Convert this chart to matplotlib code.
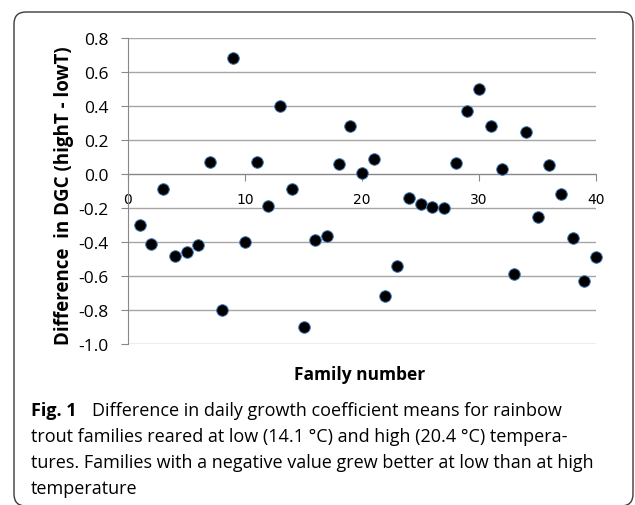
import numpy as np
import matplotlib
matplotlib.use('Agg')
import matplotlib.pyplot as plt
from matplotlib.patches import FancyBboxPatch
from matplotlib.transforms import IdentityTransform

# Family numbers and DGC differences (highT - lowT)
families = list(range(1, 41))
dgc_diff = [-0.30, -0.41, -0.09, -0.48, -0.46, -0.42, 0.07, -0.80, 0.68, -0.40,
            0.07, -0.19, 0.40, -0.09, -0.90, -0.39, -0.365, 0.06, 0.28, 0.005,
            0.09, -0.72, -0.54, -0.14, -0.175, -0.195, -0.20, 0.065, 0.37, 0.50,
            0.28, 0.03, -0.59, 0.25, -0.255, 0.055, -0.12, -0.375, -0.63, -0.49]

x_ticks = [0, 10, 20, 30, 40]
y_ticks = [-1.0, -0.8, -0.6, -0.4, -0.2, 0.0, 0.2, 0.4, 0.6, 0.8]

caption_lines = [
    "trout families reared at low (14.1 \u00b0C) and high (20.4 \u00b0C) tempera-",
    "tures. Families with a negative value grew better at low than at high",
    "temperature",
]

W, H = 635, 506
fig = plt.figure(figsize=(W / 100, H / 100), dpi=100)
ax = fig.add_axes([128 / W, 1 - 345 / H, (596 - 128) / W, (345 - 39) / H])

axis_font = ['Open Sans', 'DejaVu Sans']
cap_font = ['Open Sans', 'DejaVu Sans']

# frame round the figure (pixel coordinates)
frame = FancyBboxPatch((14, H - 507), 633 - 14, 507 - 13,
                       boxstyle="round,pad=0,rounding_size=12",
                       transform=IdentityTransform(), fill=False,
                       edgecolor='#3a3a3a', linewidth=1.0, clip_on=False)
fig.patches.append(frame)

ax.scatter(families, dgc_diff, s=70, color='black', edgecolors='#4a7ebb',
           linewidths=0.7, zorder=3, clip_on=False)

ax.set_xlim(0, 40)
ax.set_ylim(-1.0, 0.8)
ax.set_xticks(x_ticks)
ax.set_yticks(y_ticks)
ax.set_yticklabels([f"{v:.1f}" for v in y_ticks], family=axis_font, fontsize=12.5)
ax.set_xticklabels([str(v) for v in x_ticks], family=axis_font, fontsize=12.5)

ax.grid(axis='y', color='#a6a6a6', linewidth=1.0, zorder=0)
ax.set_axisbelow(True)
for s in ['top', 'right']:
    ax.spines[s].set_visible(False)
ax.spines['bottom'].set_position(('data', 0))
ax.spines['bottom'].set_color('#888888')
ax.spines['left'].set_color('#888888')
ax.tick_params(axis='x', direction='out', length=5, color='#888888', pad=8)
ax.tick_params(axis='y', direction='out', length=5, color='#888888', pad=9)

fig.text(64 / W, 1 - 196 / H, "Difference  in DGC (highT - lowT)", rotation=90,
         ha='center', va='center', fontsize=13.5, fontweight='bold', family=axis_font)
fig.text(360 / W, 1 - 375 / H, "Family number", ha='center', va='center',
         fontsize=12.5, fontweight='bold', family=axis_font)

# caption
fig.text(31 / W, 1 - 416 / H, "Fig. 1", ha='left', va='baseline', fontsize=13,
         fontweight='bold', family=cap_font)
fig.text(92 / W, 1 - 416 / H, "Difference in daily growth coefficient means for rainbow",
         ha='left', va='baseline', fontsize=13, family=cap_font)
for i, line in enumerate(caption_lines):
    fig.text(31 / W, 1 - (442 + 26 * i) / H, line, ha='left', va='baseline',
             fontsize=13, family=cap_font)

fig.savefig('out.png', dpi=100)
